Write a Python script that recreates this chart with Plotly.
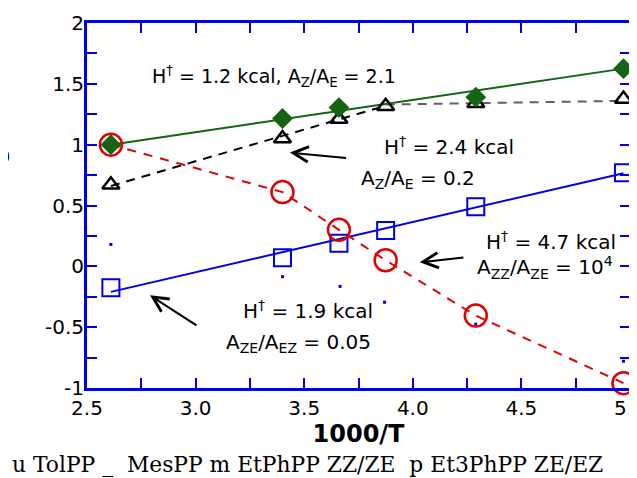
import plotly.graph_objects as go

# 1000/T positions shared by all series
inv_t = [2.61, 3.40, 3.66, 3.875, 4.29, 4.97]

# EtPhPP ZZ/ZE (red open circles)
etphpp_zz = [1.00, 0.61, 0.30, 0.05, -0.405, -0.96]
# Et3PhPP ZE/EZ (blue open squares)
et3phpp_ze = [-0.175, 0.07, 0.19, 0.295, 0.49, 0.77]
# MesPP (black open triangles)
mespp = [0.67, 1.05, 1.21, 1.315, 1.34, 1.375]
# TolPP (green diamonds)
tolpp = [1.00, 1.215, 1.305, None, 1.39, 1.625]
# small blue dots (unrendered legend markers)
dots_x = [2.61, 3.40, 3.665, 3.87, 4.29, 4.97]
dots_y = [0.18, -0.085, -0.165, -0.295, -0.475, -0.78]

# fitted lines
tolpp_fit_x = [2.61, 4.97]
tolpp_fit_y = [1.00, 1.625]
et3_fit_x = [2.61, 4.97]
et3_fit_y = [-0.21, 0.765]
mes_fit_x = [2.61, 3.875]
mes_fit_y = [0.66, 1.32]
mes_tail_x = [3.875, 4.97]
mes_tail_y = [1.33, 1.36]

blue = '#0000e6'
red = '#e00000'
green = '#146414'
sans = 'DejaVu Sans'

fig = go.Figure()

fig.add_trace(go.Scatter(x=tolpp_fit_x, y=tolpp_fit_y, mode='lines',
                         line=dict(color=green, width=2)))
fig.add_trace(go.Scatter(x=et3_fit_x, y=et3_fit_y, mode='lines',
                         line=dict(color=blue, width=2)))
fig.add_trace(go.Scatter(x=mes_fit_x, y=mes_fit_y, mode='lines',
                         line=dict(color='black', width=2, dash='9px,7px')))
fig.add_trace(go.Scatter(x=mes_tail_x, y=mes_tail_y, mode='lines',
                         line=dict(color='#606060', width=2, dash='9px,7px')))
fig.add_trace(go.Scatter(x=inv_t, y=etphpp_zz, mode='lines',
                         line=dict(color=red, width=2, dash='9px,8px')))

fig.add_trace(go.Scatter(x=dots_x, y=dots_y, mode='markers', cliponaxis=False,
                         marker=dict(symbol='square', size=3, color=blue)))
fig.add_trace(go.Scatter(x=inv_t, y=et3phpp_ze, mode='markers', cliponaxis=False,
                         marker=dict(symbol='square-open', size=17, color=blue, line=dict(width=2))))
fig.add_trace(go.Scatter(x=inv_t, y=mespp, mode='markers', cliponaxis=False,
                         marker=dict(symbol='triangle-up-open', size=15, color='black', line=dict(width=2.5))))
fig.add_trace(go.Scatter(x=inv_t, y=tolpp, mode='markers', cliponaxis=False,
                         marker=dict(symbol='diamond', size=16, color=green)))
fig.add_trace(go.Scatter(x=inv_t, y=etphpp_zz, mode='markers', cliponaxis=False,
                         marker=dict(symbol='circle-open', size=22, color=red, line=dict(width=2.5))))

labels = [
    (2.79, 1.56, 'left', 19, 'H<sup>†</sup> = 1.2 kcal, A<sub>Z</sub>/A<sub>E</sub> = 2.1'),
    (3.86, 0.99, 'left', 20, 'H<sup>†</sup> = 2.4 kcal'),
    (3.75, 0.72, 'left', 20, 'A<sub>Z</sub>/A<sub>E</sub> = 0.2'),
    (4.945, 0.21, 'right', 20, 'H<sup>†</sup> = 4.7 kcal'),
    (4.285, -0.01, 'left', 20, 'A<sub>ZZ</sub>/A<sub>ZE</sub> = 10<sup>4</sup>'),
    (3.21, -0.36, 'left', 20, 'H<sup>†</sup> = 1.9 kcal'),
    (3.13, -0.63, 'left', 20, 'A<sub>ZE</sub>/A<sub>EZ</sub> = 0.05'),
]
for x, y, anchor, size, t in labels:
    fig.add_annotation(x=x, y=y, text=t, showarrow=False, xanchor=anchor,
                       yanchor='middle', font=dict(family=sans, size=size, color='black'))

arrows = [
    ((3.434, 0.935), (3.70, 0.89)),
    ((4.032, 0.033), (4.24, 0.074)),
    ((2.79, -0.238), (3.011, -0.493)),
]
for (hx, hy), (tx, ty) in arrows:
    fig.add_annotation(x=hx, y=hy, ax=tx, ay=ty, axref='x', ayref='y', text='',
                       showarrow=True, arrowhead=5, arrowsize=1.5, arrowwidth=2,
                       arrowcolor='black', standoff=0, startstandoff=0)

# y title, mostly cut off at the left edge
fig.add_annotation(xref='paper', yref='paper', x=(-3 - 87) / 543, y=(388 - 154) / 365,
                   text='<b>log K</b>', textangle=-90, showarrow=False,
                   xanchor='center', yanchor='middle', font=dict(family=sans, size=22, color='black'))

fig.add_annotation(xref='paper', yref='paper', x=(10 - 87) / 543, y=(388 - 465) / 365,
                   text='u TolPP _\u00a0\u00a0MesPP m EtPhPP ZZ/ZE\u00a0\u00a0p Et3PhPP ZE/EZ',
                   showarrow=False, xanchor='left', yanchor='middle',
                   font=dict(family='DejaVu Serif', size=21.8, color='black'))

axis = dict(showgrid=False, zeroline=False, showline=True, linecolor=blue, linewidth=3,
            mirror='ticks', ticks='inside', ticklen=10, tickwidth=2, tickcolor=blue,
            tickfont=dict(family=sans, size=20, color='black'), automargin=False,
            ticklabeloverflow='allow',
            minor=dict(ticks='inside', ticklen=10, tickwidth=2, tickcolor=blue, dtick=0.25))

fig.update_xaxes(axis, range=[2.5, 5.0], dtick=0.5, tickformat='.1f',
                 title=dict(text='<b>1000/T</b>', font=dict(family=sans, size=24, color='black'),
                            standoff=6))
fig.update_yaxes(axis, range=[-1, 2], tickvals=[-1, -0.5, 0, 0.5, 1, 1.5, 2],
                 ticktext=['-1', '-0.5', '0', '0.5', '1', '1.5', '2'], ticklabelstandoff=-4)

# page body adds an 8px offset, so the figure is drawn 8px smaller
fig.update_layout(width=629, height=470, showlegend=False,
                  margin=dict(l=79, r=7, t=15, b=90),
                  paper_bgcolor='white', plot_bgcolor='white',
                  font=dict(family=sans, color='black'))

fig.write_html('out.html')
